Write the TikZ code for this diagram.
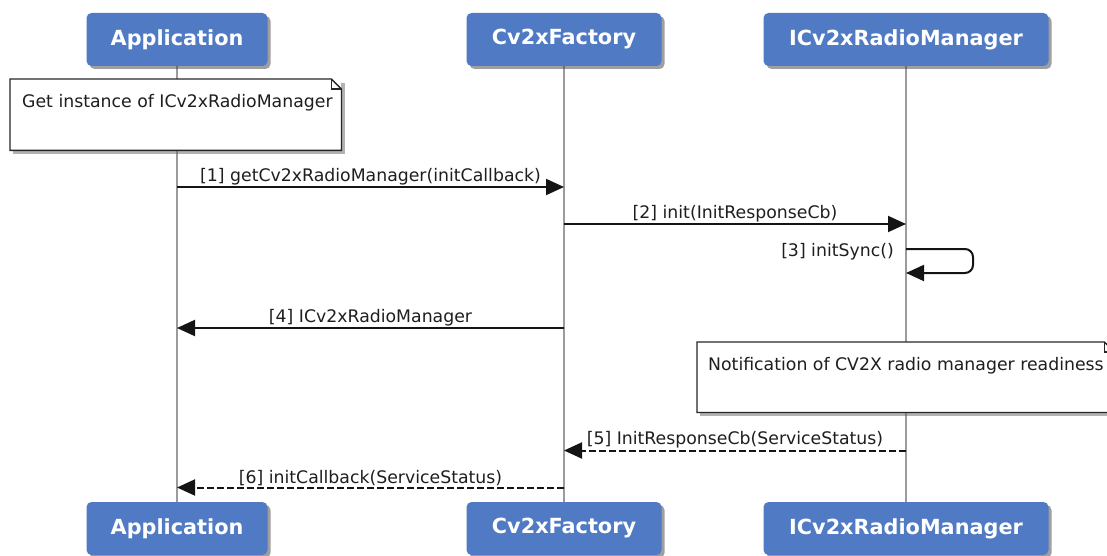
\documentclass[tikz,border=0pt]{standalone}
\usepackage{fontspec}
\setmainfont{DejaVu Sans}
\usetikzlibrary{arrows.meta,shadows,backgrounds}
\definecolor{boxblue}{RGB}{80,122,196}
\definecolor{lifegray}{RGB}{155,155,155}
\definecolor{txtcol}{RGB}{30,30,30}
\begin{document}
\begin{tikzpicture}[x=1pt,y=-1pt,
 actor/.style={rectangle, rounded corners=5pt, fill=boxblue, text=white,
   font=\fontsize{20.8}{24}\selectfont\bfseries, minimum height=53pt, inner sep=0pt,
   drop shadow={shadow xshift=3pt, shadow yshift=-3pt, opacity=0.5, fill=black!75}},
 life/.style={draw=lifegray, line width=1.8pt},
 msg/.style={draw=black!92, line width=2pt, -{Triangle[length=18pt,width=16pt]}},
 rmsg/.style={msg, dash pattern=on 7pt off 3pt},
 lbl/.style={font=\fontsize{17.3}{20}\selectfont, text=txtcol, inner sep=1pt},
 notebg/.style={fill=white, draw=none, inner sep=0pt},
 noteline/.style={draw=black!85, line width=1.3pt},
 noteshadow/.style={fill=black!60, opacity=0.5},
]
\useasboundingbox (0,0) rectangle (1107,556);

% actors (top and bottom)
\node[actor, minimum width=181pt] (a1) at (177,39.5) {Application};
\node[actor, minimum width=195pt] (f1) at (564,39.5) {Cv2xFactory};
\node[actor, minimum width=285pt] (i1) at (906,39.5) {ICv2xRadioManager};
\node[actor, minimum width=181pt] (a2) at (177,528.5) {Application};
\node[actor, minimum width=195pt] (f2) at (564,528.5) {Cv2xFactory};
\node[actor, minimum width=285pt] (i2) at (906,528.5) {ICv2xRadioManager};

% lifelines
\begin{scope}[on background layer]
\draw[life] (a1.south) -- (a2.north);
\draw[life] (f1.south) -- (f2.north);
\draw[life] (i1.south) -- (i2.north);
\end{scope}

% note 1
\fill[noteshadow] (13,83) rectangle (345,154);
\node[notebg, minimum width=331pt, minimum height=71pt, anchor=north west] (n1) at (10,79) {};
\draw[noteline] (n1.north west) -- ([xshift=-10pt]n1.north east) -- ([yshift=-10pt]n1.north east) -- (n1.south east) -- (n1.south west) -- cycle;
\draw[noteline] ([xshift=-10pt]n1.north east) -- ([xshift=-10pt,yshift=-10pt]n1.north east) -- ([yshift=-10pt]n1.north east);
\node[lbl, anchor=west] (t1) at (21,103) {Get instance of ICv2xRadioManager};

% note 2
\fill[noteshadow] (700,346) rectangle (1117,416);
\node[notebg, minimum width=417pt, minimum height=70pt, anchor=north west] (n2) at (697,342) {};
\draw[noteline] (n2.north west) -- ([xshift=-10pt]n2.north east) -- ([yshift=-10pt]n2.north east) -- (n2.south east) -- (n2.south west) -- cycle;
\draw[noteline] ([xshift=-10pt]n2.north east) -- ([xshift=-10pt,yshift=-10pt]n2.north east) -- ([yshift=-10pt]n2.north east);
\node[lbl, anchor=west] (t2) at (707,366) {Notification of CV2X radio manager readiness};

% message points
\coordinate (a-1) at (177,187);
\coordinate (f-1) at (564,187);
\coordinate (f-2) at (564,224);
\coordinate (i-2) at (906,224);
\coordinate (i-3s) at (906,249);
\coordinate (i-3e) at (906,273);
\coordinate (f-4) at (564,328);
\coordinate (a-4) at (177,328);
\coordinate (i-5) at (906,450.5);
\coordinate (f-5) at (564,450.5);
\coordinate (f-6) at (564,487.5);
\coordinate (a-6) at (177,487.5);

% messages
\draw[msg] (a-1) -- node[lbl, above] (l1) {[1] getCv2xRadioManager(initCallback)} (f-1);
\draw[msg] (f-2) -- node[lbl, above] (l2) {[2] init(InitResponseCb)} (i-2);
\draw[msg, rounded corners=8pt] (i-3s) -- ++(67,0) |- (i-3e);
\node[lbl, anchor=base east] (l3) at (895,256) {[3] initSync()};
\draw[msg] (f-4) -- node[lbl, above] (l4) {[4] ICv2xRadioManager} (a-4);
\draw[rmsg] (i-5) -- node[lbl, above] (l5) {[5] InitResponseCb(ServiceStatus)} (f-5);
\draw[rmsg] (f-6) -- node[lbl, above] (l6) {[6] initCallback(ServiceStatus)} (a-6);
\end{tikzpicture}
\end{document}
